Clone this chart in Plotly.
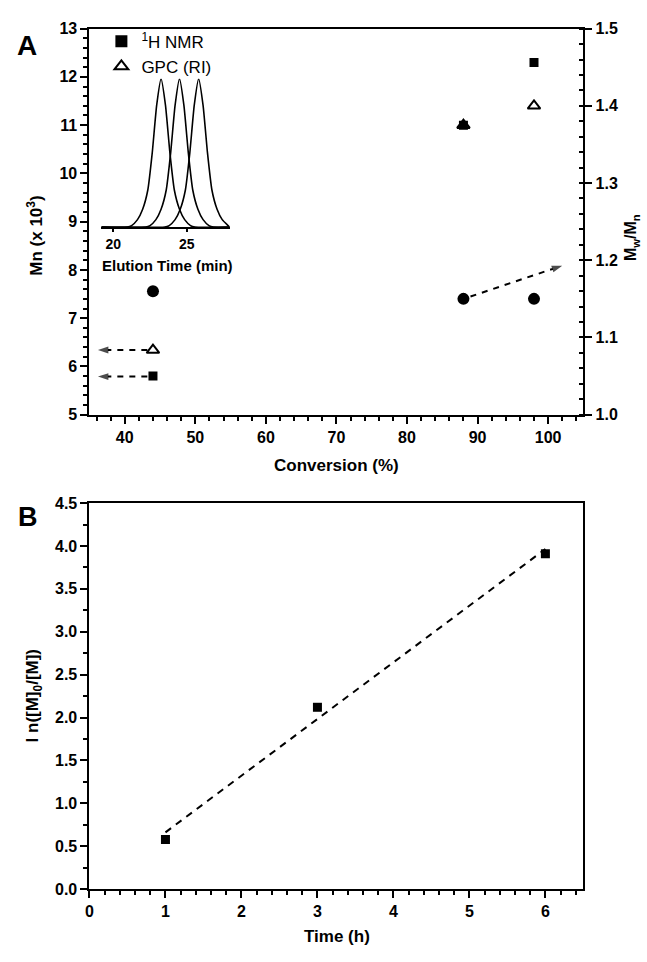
import numpy as np
import plotly.graph_objects as go

W, H = 647, 962

# ---------------- data: panel A ----------------
conv = [44, 88, 98]
mn_nmr = [5.8, 11.0, 12.3]
mn_gpc = [6.34, 11.0, 11.4]
pdi = [1.16, 1.15, 1.15]

# dashed arrows in panel A: [x_start, y_start, x_end, y_end]
arrow_gpc = [43.2, 6.34, 36.2, 6.34]
arrow_nmr = [43.2, 5.79, 36.2, 5.79]
arrow_pdi = [89.0, 1.153, 102.0, 1.193]

# inset GPC traces (elution time, normalised RI signal)
t1 = [19.2, 20.95, 21.25, 21.65, 22.0, 22.35, 22.65, 22.95, 23.25, 23.55, 23.85, 24.15, 24.5, 24.85, 25.25, 25.55, 27.9]
s1 = [0.0, 0.0, 0.01, 0.05, 0.12, 0.25, 0.50, 0.82, 1.0, 0.82, 0.50, 0.25, 0.12, 0.05, 0.01, 0.0, 0.0]
t2 = [19.2, 22.2, 22.5, 22.9, 23.25, 23.6, 23.9, 24.2, 24.5, 24.8, 25.1, 25.4, 25.75, 26.1, 26.5, 26.8, 27.9]
s2 = [0.0, 0.0, 0.01, 0.05, 0.12, 0.25, 0.50, 0.82, 1.0, 0.82, 0.50, 0.25, 0.12, 0.05, 0.01, 0.0, 0.0]
t3 = [19.2, 23.5, 23.8, 24.2, 24.55, 24.9, 25.2, 25.5, 25.8, 26.1, 26.4, 26.7, 27.05, 27.4, 27.8, 27.9]
s3 = [0.0, 0.0, 0.01, 0.05, 0.12, 0.25, 0.50, 0.82, 1.0, 0.82, 0.50, 0.25, 0.12, 0.05, 0.01, 0.0]

# ---------------- data: panel B ----------------
time_h = [1, 3, 6]
ln_ratio = [0.58, 2.12, 3.91]

FONT = "Liberation Sans, Arial, sans-serif"


def px_x(p):
    return p / W


def px_y(p):
    return 1 - p / H


fig = go.Figure()

# Panel A points
fig.add_trace(go.Scatter(x=conv, y=mn_nmr, mode="markers", name="<sup>1</sup>H NMR",
                         marker=dict(symbol="square", size=9, color="black"),
                         xaxis="x", yaxis="y"))
fig.add_trace(go.Scatter(x=conv, y=mn_gpc, mode="markers", name="GPC (RI)",
                         marker=dict(symbol="triangle-up-open", size=11, color="black",
                                     line=dict(width=2, color="black")),
                         xaxis="x", yaxis="y"))
fig.add_trace(go.Scatter(x=conv, y=pdi, mode="markers", showlegend=False,
                         marker=dict(symbol="circle", size=12, color="black"),
                         xaxis="x", yaxis="y2"))

# dashed arrows (shaft + arrowhead marker oriented along the line)
for arr, ya in [(arrow_gpc, "y"), (arrow_nmr, "y"), (arrow_pdi, "y2")]:
    fig.add_trace(go.Scatter(x=[arr[0], arr[2]], y=[arr[1], arr[3]], mode="lines+markers",
                             showlegend=False,
                             line=dict(color="black", width=2, dash="6px,6px"),
                             marker=dict(symbol="arrow", size=[0, 11], color="black",
                                         angleref="previous", line=dict(width=0)),
                             xaxis="x", yaxis=ya))

# inset traces
for tx, sy in [(t1, s1), (t2, s2), (t3, s3)]:
    fig.add_trace(go.Scatter(x=tx, y=sy, mode="lines", showlegend=False,
                             line=dict(color="black", width=1.6, shape="spline", smoothing=0.5),
                             xaxis="x3", yaxis="y3"))

# Panel B
coef = np.polyfit(time_h, ln_ratio, 1)
fit_x = [time_h[0], time_h[-1]]
fit_y = [coef[0] * v + coef[1] for v in fit_x]
fig.add_trace(go.Scatter(x=fit_x, y=fit_y, mode="lines", showlegend=False,
                         line=dict(color="black", width=2, dash="7px,6px"),
                         xaxis="x4", yaxis="y4"))
fig.add_trace(go.Scatter(x=time_h, y=ln_ratio, mode="markers", showlegend=False,
                         marker=dict(symbol="square", size=9, color="black"),
                         xaxis="x4", yaxis="y4"))

tickfont = dict(family=FONT, size=16, color="black", weight="bold")
axis_common = dict(showline=True, linecolor="black", linewidth=2, ticks="outside",
                   tickcolor="black", tickwidth=2, ticklen=7, showgrid=False,
                   zeroline=False, tickfont=tickfont)

dom_x = [px_x(86), px_x(583)]
domA = [px_y(414), px_y(21)]
domB = [px_y(897), px_y(504)]

annotations = []


def txt(text, x, y, size, angle=0, weight="bold"):
    annotations.append(dict(text=text, x=px_x(x), y=px_y(y), xref="paper", yref="paper",
                            showarrow=False, textangle=angle, xanchor="center", yanchor="middle",
                            font=dict(family=FONT, size=size, color="black", weight=weight)))


txt("A", 23, 38, 28)
txt("B", 24, 518, 27)
txt("Mn (x 10<sup>3</sup>)", 31, 232, 17, angle=-90)
txt("M<sub>w</sub>/M<sub>n</sub>", 632, 234, 16, angle=-90)
txt("Conversion (%)", 335, 466, 17)
txt("Elution Time (min)", 165, 262, 15)
txt("l n([M]<sub>0</sub>/[M])", 30, 700, 17, angle=-90)
txt("Time (h)", 335, 945, 17)

fig.update_layout(
    width=W, height=H, margin=dict(l=0, r=0, t=0, b=0),
    paper_bgcolor="white", plot_bgcolor="rgba(0,0,0,0)",
    showlegend=True,
    legend=dict(x=px_x(98), y=px_y(16), xanchor="left", yanchor="top",
                bgcolor="rgba(0,0,0,0)", font=dict(family=FONT, size=17, color="black"),
                itemsizing="constant", tracegroupgap=0),
    xaxis=dict(domain=dom_x, range=[35, 105], dtick=10, tick0=0, anchor="y",
               mirror=True, minor=dict(dtick=2, ticklen=4, tickwidth=2, tickcolor="black", ticks="outside"),
               **axis_common),
    yaxis=dict(domain=domA, range=[5, 13], dtick=1, anchor="x",
               minor=dict(dtick=0.2, ticklen=4, tickwidth=2, tickcolor="black", ticks="outside"),
               **axis_common),
    yaxis2=dict(domain=domA, range=[1.0, 1.5], dtick=0.1, tickformat=".1f", overlaying="y",
                side="right", anchor="x",
                minor=dict(dtick=0.02, ticklen=4, tickwidth=2, tickcolor="black", ticks="inside"),
                **axis_common),
    xaxis3=dict(domain=[px_x(98), px_x(227)], range=[19.2, 27.9], anchor="y3",
                showline=True, linecolor="black", linewidth=2, ticks="outside", ticklen=3,
                tickwidth=1.5, tickcolor="black", tickvals=[20, 25], showgrid=False, zeroline=False,
                tickfont=dict(family=FONT, size=14, color="black", weight="bold")),
    yaxis3=dict(domain=[px_y(223), px_y(72)], range=[0, 1.0], anchor="x3", visible=False),
    xaxis4=dict(domain=dom_x, range=[0, 6.5], dtick=1, anchor="y4", mirror=True,
                minor=dict(dtick=0.2, ticklen=4, tickwidth=2, tickcolor="black", ticks="outside"),
                **axis_common),
    yaxis4=dict(domain=domB, range=[0, 4.5], dtick=0.5, tickformat=".1f", anchor="x4", mirror=True,
                minor=dict(dtick=0.25, ticklen=4, tickwidth=2, tickcolor="black", ticks="outside"),
                **axis_common),
    annotations=annotations,
)

fig.write_html("out.html", config={"displayModeBar": False},
               post_script="document.body.style.margin='0';document.body.style.overflow='hidden';")
